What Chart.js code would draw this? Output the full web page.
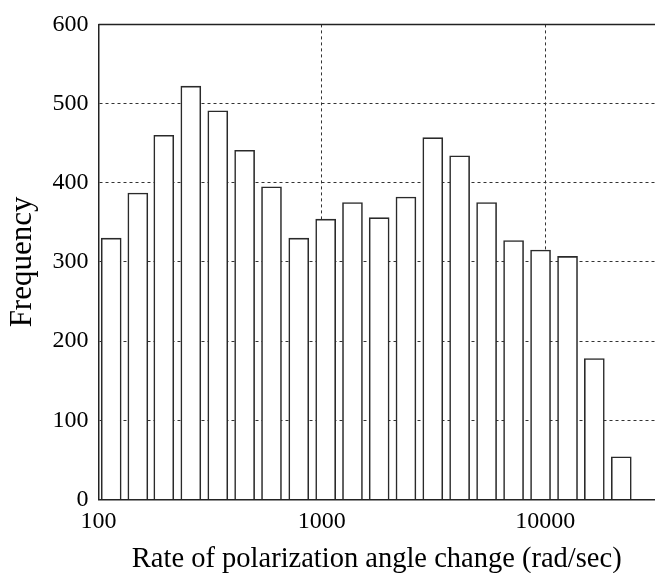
<!DOCTYPE html>
<html>
<head>
<meta charset="utf-8">
<script src="https://cdn.jsdelivr.net/npm/chart.js@4/dist/chart.umd.min.js"></script>
<style>
html,body{margin:0;padding:0;background:#fff;}
#wrap{width:655px;height:573px;position:relative;}
</style>
</head>
<body>
<div id="wrap"><canvas id="c"></canvas></div>
<script>
// Bin centres (rad/sec)
const binCenters = [114, 150, 196, 259, 342, 451, 595, 788, 1040, 1371,
                    1805, 2379, 3137, 4137, 5463, 7215, 9528, 12584, 16586, 21900];
// Frequency per bin
const frequencies = [330, 387, 460, 522, 491, 441, 395, 330, 354, 375,
                     356, 382, 457, 434, 375, 327, 315, 307, 178, 54];
const xTickValues = [100, 1000, 10000];
const yTicks = [0, 100, 200, 300, 400, 500, 600];
const xMin = 100, xMax = 31000;
const yMin = 0, yMax = 600;
const xTitle = 'Rate of polarization angle change (rad/sec)';
const yTitle = 'Frequency';

const points = binCenters.map((x, i) => ({x: x, y: frequencies[i]}));

const topLine = {
  id: 'topLine',
  afterDraw(chart) {
    const {ctx, chartArea} = chart;
    ctx.save();
    ctx.strokeStyle = '#222';
    ctx.lineWidth = 1.5;
    ctx.beginPath();
    ctx.moveTo(chartArea.left, chartArea.top);
    ctx.lineTo(chart.width, chartArea.top);
    ctx.stroke();
    ctx.restore();
  }
};

const FONT = "'Liberation Serif', 'Times New Roman', serif";

new Chart(document.getElementById('c'), {
  type: 'bar',
  data: {
    datasets: [{
      data: points,
      backgroundColor: '#ffffff',
      borderColor: '#2a2a2a',
      borderWidth: 1.6,
      barThickness: 20,
      borderSkipped: 'start'
    }]
  },
  options: {
    responsive: true,
    maintainAspectRatio: false,
    animation: false,
    devicePixelRatio: 1,
    layout: {padding: {top: 20, right: 0, bottom: 0, left: 0}},
    plugins: {legend: {display: false}, tooltip: {enabled: false}},
    scales: {
      x: {
        type: 'logarithmic',
        offset: false,
        min: xMin,
        max: xMax,
        afterBuildTicks(scale) {
          scale.ticks = xTickValues.map(v => ({value: v}));
        },
        afterFit(scale) { scale.height = 73.5; },
        grid: {
          offset: false,
          drawTicks: false,
          color: ctx => (ctx.tick && ctx.tick.value === xMin) ? 'rgba(0,0,0,0)' : '#333',
          lineWidth: 1
        },
        border: {display: true, color: '#222', width: 1.5, dash: [3, 3]},
        ticks: {
          autoSkip: false,
          maxRotation: 0,
          padding: 8,
          color: '#000',
          font: {family: FONT, size: 24},
          callback: v => String(v)
        },
        title: {
          display: true,
          text: xTitle,
          color: '#000',
          font: {family: FONT, size: 28.5},
          padding: {top: 0, bottom: -4}
        }
      },
      y: {
        type: 'linear',
        min: yMin,
        max: yMax,
        afterBuildTicks(scale) {
          scale.ticks = yTicks.map(v => ({value: v}));
        },
        afterFit(scale) { scale.width = 98.5; },
        grid: {
          drawTicks: false,
          color: ctx => (ctx.tick && (ctx.tick.value === yMin || ctx.tick.value === yMax)) ? 'rgba(0,0,0,0)' : '#333',
          lineWidth: 1
        },
        border: {display: true, color: '#222', width: 1.5, dash: [3, 3]},
        ticks: {
          padding: 10,
          color: '#000',
          font: {family: FONT, size: 24}
        },
        title: {
          display: true,
          text: yTitle,
          color: '#000',
          font: {family: FONT, size: 31},
          padding: {top: 4, bottom: 0}
        }
      }
    }
  },
  plugins: [topLine]
});
</script>
</body>
</html>
